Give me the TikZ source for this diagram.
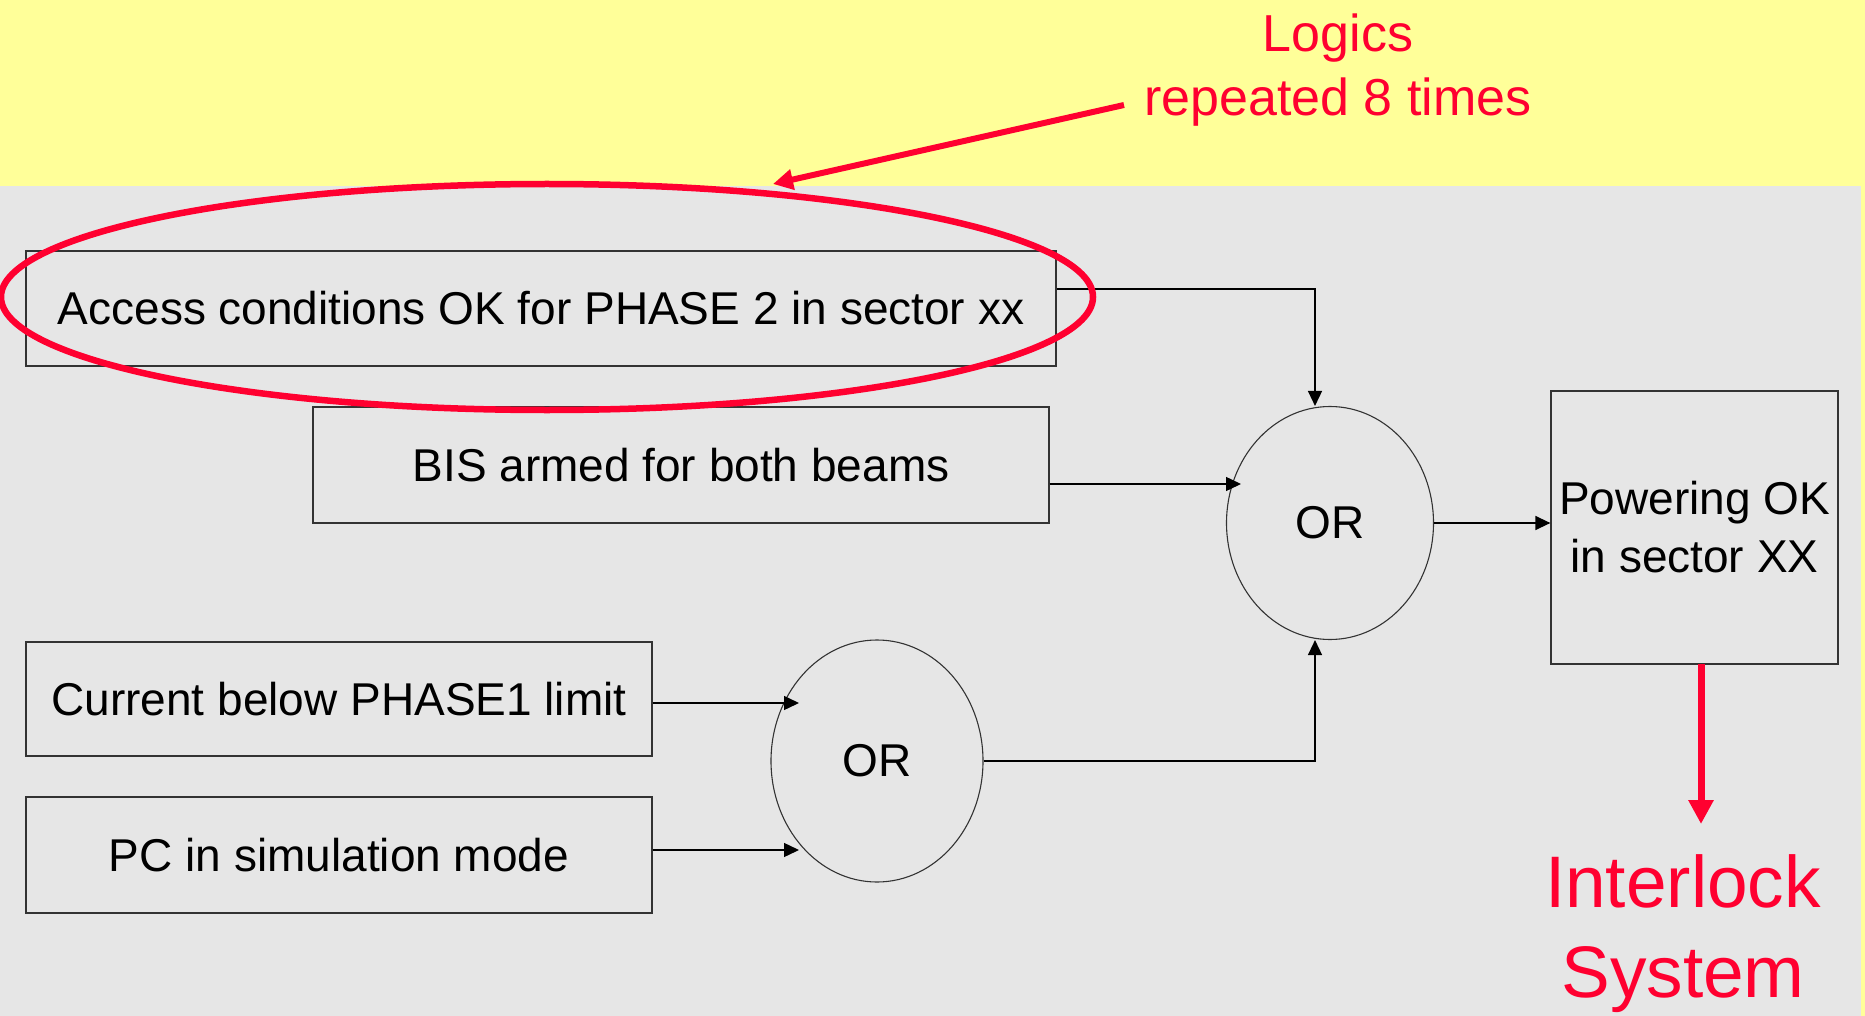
\documentclass[tikz,border=0pt]{standalone}
\usepackage{fontspec}
\setmainfont{Liberation Sans}
\usetikzlibrary{arrows.meta,shapes.geometric,calc}
\definecolor{bgyellow}{HTML}{FFFF99}
\definecolor{bggray}{HTML}{E6E6E6}
\definecolor{hlred}{HTML}{FF0030}
\definecolor{edgegray}{HTML}{333333}
\begin{document}
\begin{tikzpicture}[x=1pt,y=-1pt,
  box/.style={draw=edgegray,line width=1.3pt,rectangle,inner sep=0pt,font=\fontsize{46}{58}\selectfont,align=center},
  gate/.style={draw=edgegray,line width=1.1pt,ellipse,inner sep=0pt,font=\fontsize{46}{56}\selectfont},
  conn/.style={draw=black,line width=1.4pt,-{Triangle[length=15pt,width=14pt]}},
  redarrow/.style={draw=hlred,line width=7pt,-{Triangle[length=24pt,width=24pt]}},
  redtext/.style={text=hlred,align=center,inner sep=0pt}]
\useasboundingbox (0,0) rectangle (1865,1016);
\fill[bgyellow] (0,0) rectangle (1865,1016);
\fill[bggray] (0,186) rectangle (1861,1016);

% boxes
\node[box,minimum width=1030pt,minimum height=115pt] (acc) at (541,308.5) {Access conditions OK for PHASE 2 in sector xx};
\node[box,minimum width=736pt,minimum height=116pt] (bis) at (681,465) {BIS armed for both beams};
\node[box,minimum width=626pt,minimum height=114pt] (cur) at (339,699) {Current below PHASE1 limit};
\node[box,minimum width=626pt,minimum height=116pt] (pc) at (339,855) {PC in simulation mode};
\node[box,minimum width=287pt,minimum height=273pt] (pow) at (1694.5,527.5) {Powering OK\\in sector XX};

% gates
\node[gate,minimum width=212pt,minimum height=242pt] (or1) at (877,761) {OR};
\node[gate,minimum width=207pt,minimum height=233pt] (or2) at (1330,523) {OR};

% connectors
\coordinate (j1) at (1315,289);
\coordinate (j2) at (1315,758);
\coordinate (t1) at (799,703);
\coordinate (t2) at (799,850);
\coordinate (t3) at (1241,484);
\draw[conn] (acc.east |- j1) -- (j1) -- (j1 |- or2.north);
\draw[conn] (bis.east |- t3) -- (t3);
\draw[conn] (or2.east) -- (or2.east -| pow.west);
\draw[conn] (or1.east) -- (or1.east -| j2) -- (j2 |- or2.south);
\draw[conn] (cur.east |- t1) -- (t1);
\draw[conn] (pc.east |- t2) -- (t2);

% red annotations
\node[draw=hlred,line width=6.5pt,ellipse,inner sep=0pt,minimum width=1092pt,minimum height=226pt] (hl) at (547,297) {};
\node[redtext,font=\fontsize{52}{64}\selectfont] (logic) at (1338,70) {Logics\\repeated 8 times};
\coordinate (as) at (1124,105);
\coordinate (at) at (773,184);
\draw[draw=hlred,line width=6pt,-{Triangle[length=20pt,width=20pt]}] (as) -- (at);
\node[redtext,font=\fontsize{73}{90}\selectfont] (ils) at (1683,934) {Interlock\\System};
\coordinate (ils0) at (1701,664);
\coordinate (ilt) at (1701,824);
\draw[redarrow] (ils0) -- (ilt);
\end{tikzpicture}
\end{document}
